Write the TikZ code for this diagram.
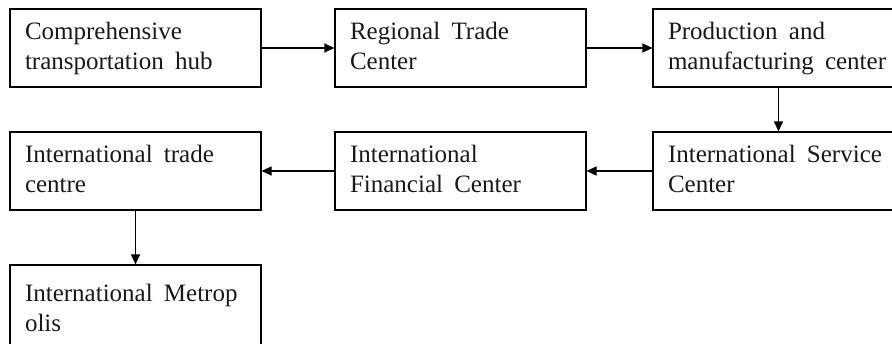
\documentclass[tikz,border=0pt]{standalone}
\usepackage{fontspec}
\setmainfont{Liberation Serif}
\usetikzlibrary{arrows.meta}
\newcommand{\lstrut}{\rule[-6pt]{0pt}{24pt}}
\newcommand{\wsp}{\hspace{0.45em}}
\begin{document}
\begin{tikzpicture}[x=1pt,y=-1pt,
  flowbox/.style={draw=black, line width=1.2pt, minimum width=251pt, minimum height=78pt,
    inner xsep=15pt, inner ysep=0pt, text width=221pt, align=left,
    font=\fontsize{25}{30}\selectfont, text=black!90},
  widebox/.style={flowbox, minimum width=281pt, text width=251pt},
  tallbox/.style={flowbox, minimum height=90pt},
  flowarrow/.style={line width=1.2pt, -{Triangle[length=10pt,width=9pt]}}]
\useasboundingbox (0,0) rectangle (892,343);
\node[flowbox] (hub) at (135.5,48) {\lstrut Comprehensive\\ transportation\wsp hub\lstrut};
\node[flowbox] (rtc) at (460.5,48) {\lstrut Regional\wsp Trade\\ Center\lstrut};
\node[widebox] (pmc) at (793.5,48) {\lstrut Production\wsp and\\ manufacturing\wsp center\lstrut};
\node[widebox] (isc) at (793.5,171) {\lstrut International\wsp Service\\ Center\lstrut};
\node[flowbox] (ifc) at (460.5,171) {\lstrut International\\ Financial\wsp Center\lstrut};
\node[flowbox] (itc) at (135.5,171) {\lstrut International\wsp trade\\ centre\lstrut};
\node[tallbox] (im) at (135.5,310) {\lstrut International\wsp Metrop\\ olis\lstrut\\[12pt]};
\draw[flowarrow] (hub) -- (rtc);
\draw[flowarrow] (rtc) -- (pmc);
\draw[flowarrow] ([xshift=-15pt]pmc.south) -- ([xshift=-15pt]isc.north);
\draw[flowarrow] (isc) -- (ifc);
\draw[flowarrow] (ifc) -- (itc);
\draw[flowarrow] (itc) -- (im);
\end{tikzpicture}
\end{document}
